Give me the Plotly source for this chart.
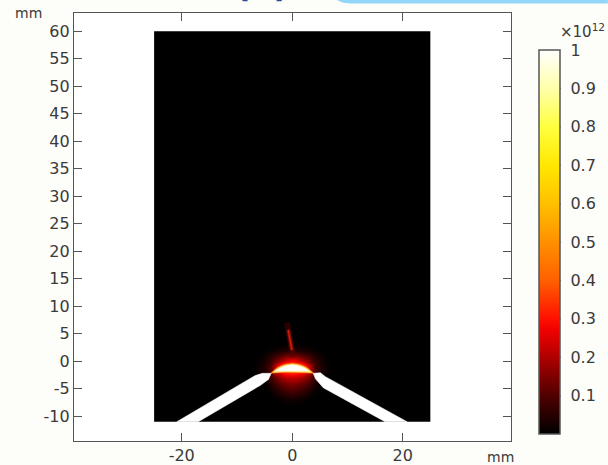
import plotly.graph_objects as go

# Field table, in units of 1e12
grid_x = [-8, -7, -6, -5, -4, -3, -2, -1, 0, 1, 2, 3, 4, 5, 6, 7, 8]
grid_y = [4, 3, 2, 1, 0, -1, -2, -3, -4, -5, -6, -7, -8]
field = [
    [0, 0, 0, 0, 0, 0, 0, 0, 0, 0, 0, 0, 0, 0, 0, 0, 0],
    [0, 0, 0, 0, 0, 0, 0, .01, .01, .01, 0, 0, 0, 0, 0, 0, 0],
    [0, 0, 0, 0, .01, .02, .03, .04, .05, .04, .03, .02, .01, 0, 0, 0, 0],
    [0, 0, .005, .02, .04, .07, .1, .13, .14, .13, .1, .07, .04, .02, .005, 0, 0],
    [0, 0, .01, .03, .07, .13, .2, .26, .3, .26, .2, .13, .07, .03, .01, 0, 0],
    [0, 0, .02, .04, .1, .22, .4, .5, .55, .5, .4, .22, .1, .04, .02, 0, 0],
    [0, 0, .02, .04, .1, .2, .28, .32, .34, .32, .28, .2, .1, .04, .02, 0, 0],
    [0, 0, 0, .03, .07, .13, .18, .21, .22, .21, .18, .13, .07, .03, 0, 0, 0],
    [0, 0, 0, 0, .04, .08, .12, .14, .15, .14, .12, .08, .04, 0, 0, 0, 0],
    [0, 0, 0, 0, .02, .05, .08, .1, .11, .1, .08, .05, .02, 0, 0, 0, 0],
    [0, 0, 0, 0, 0, .02, .04, .05, .06, .05, .04, .02, 0, 0, 0, 0, 0],
    [0, 0, 0, 0, 0, 0, .01, .02, .02, .02, .01, 0, 0, 0, 0, 0, 0],
    [0, 0, 0, 0, 0, 0, 0, 0, 0, 0, 0, 0, 0, 0, 0, 0, 0],
]

# Geometry outlines, mm
domain_x = [-25, 25]
domain_y = [-11, 60]
left_x = [-20.9, -17.0, -5.8, -4.3, -3.8, -5.4, -6.7, -20.9]
left_y = [-11, -11, -4.4, -3.3, -2.2, -2.2, -2.6, -11]
right_x = [20.8, 16.8, 5.6, 4.2, 3.8, 5.1, 6.0, 20.8]
right_y = [-11, -11, -4.8, -3.2, -2.2, -2.1, -2.8, -11]
lens_x = [-3.9, -2.8, -1.4, 0, 1.4, 2.8, 3.9, 2.6, 1.3, 0, -1.3, -2.6, -3.9]
lens_y = [-2.2, -1.2, -0.6, -0.4, -0.6, -1.2, -2.2, -2.1, -2.0, -2.0, -2.0, -2.1, -2.2]
mid_x = [-3.5, -2.2, -1.0, 0, 1.0, 2.2, 3.5, 2.2, 1.0, 0, -1.0, -2.2, -3.5]
mid_y = [-2.0, -1.05, -0.65, -0.5, -0.65, -1.05, -2.0, -1.95, -1.9, -1.9, -1.9, -1.95, -2.0]
core_x = [-3.0, -1.4, 0, 1.4, 3.0, 1.4, 0, -1.4, -3.0]
core_y = [-1.7, -0.95, -0.7, -0.95, -1.7, -1.75, -1.75, -1.75, -1.7]
streak_x = [-0.72, -0.05]
streak_y = [5.7, 2.0]
streak_halo_x = [-0.95, 0.2]
streak_halo_y = [7.0, 0.6]

# Axis and colour bar labels
x_ticks = [-20, 0, 20]
y_ticks = [60, 55, 50, 45, 40, 35, 30, 25, 20, 15, 10, 5, 0, -5, -10]
bar_ticks = [0.1, 0.2, 0.3, 0.4, 0.5, 0.6, 0.7, 0.8, 0.9, 1]
bar_labels = ["0.1", "0.2", "0.3", "0.4", "0.5", "0.6", "0.7", "0.8", "0.9", "1"]

thermal = [
    [0.0, "#000000"], [0.1, "#500000"], [0.2, "#b00000"], [0.27, "#f00000"],
    [0.3, "#ff1000"], [0.4, "#ff6000"], [0.5, "#ff9000"], [0.6, "#ffc000"],
    [0.7, "#ffe800"], [0.8, "#ffff40"], [0.9, "#ffffaa"], [1.0, "#ffffff"],
]

INK = "#3a3a3a"
FRAME = "#555555"
L, R, T, B = 73.6, 511.0, 13.0, 441.0
BAR_TOP, BAR_BOTTOM, BAR_LEFT, BAR_RIGHT = 50.0, 434.0, 539.3, 560.7


def px(v):
    return (v - L) / (R - L)


def py(v):
    return (B - v) / (B - T)


def poly(xs, ys, color):
    return go.Scatter(x=xs, y=ys, mode="lines", fill="toself", fillcolor=color,
                      line=dict(color=color, width=0.5), hoverinfo="skip", showlegend=False)


fig = go.Figure()
fig.add_trace(go.Heatmap(
    x=grid_x, y=grid_y, z=field, zmin=0, zmax=1, colorscale=thermal, zsmooth="best",
    colorbar=dict(
        thickness=BAR_RIGHT - BAR_LEFT, thicknessmode="pixels",
        len=BAR_BOTTOM - BAR_TOP, lenmode="pixels",
        x=px(BAR_LEFT), xanchor="left", xpad=0,
        y=py(BAR_BOTTOM), yanchor="bottom", ypad=0,
        tickmode="array", tickvals=bar_ticks, ticktext=bar_labels,
        ticks="outside", ticklen=7, tickwidth=1, tickcolor="rgba(0,0,0,0)",
        tickfont=dict(family="DejaVu Sans", size=16, color=INK),
        outlinecolor=FRAME, outlinewidth=1.5,
    ),
))
fig.add_trace(poly(lens_x, lens_y, "#ff8a10"))
fig.add_trace(poly(mid_x, mid_y, "#ffe98a"))
fig.add_trace(poly(core_x, core_y, "#ffffff"))
fig.add_trace(go.Scatter(x=streak_halo_x, y=streak_halo_y, mode="lines",
                         line=dict(color="rgba(90,0,0,0.45)", width=6),
                         hoverinfo="skip", showlegend=False))
fig.add_trace(go.Scatter(x=streak_x, y=streak_y, mode="lines",
                         line=dict(color="rgba(150,10,0,0.8)", width=3.5),
                         hoverinfo="skip", showlegend=False))
fig.add_trace(go.Scatter(x=streak_x, y=streak_y, mode="lines",
                         line=dict(color="#d02000", width=1.4),
                         hoverinfo="skip", showlegend=False))
fig.add_trace(poly(left_x, left_y, "#ffffff"))
fig.add_trace(poly(right_x, right_y, "#ffffff"))

axis_common = dict(
    showgrid=False, zeroline=False, showline=True, linecolor=FRAME, linewidth=1.3,
    mirror="ticks", ticks="inside", ticklen=8, tickwidth=1.3, tickcolor=FRAME,
    tickfont=dict(family="DejaVu Sans", size=16, color=INK),
)
fig.update_xaxes(range=[-39.5, 39.6], tickmode="array", tickvals=x_ticks,
                 ticktext=[str(t) for t in x_ticks], **axis_common)
fig.update_yaxes(range=[-14.5, 63.3], tickmode="array", tickvals=y_ticks,
                 ticktext=[str(t) for t in y_ticks], **axis_common)

shapes = [dict(type="rect", xref="x", yref="y", layer="below",
               x0=domain_x[0], x1=domain_x[1], y0=domain_y[0], y1=domain_y[1],
               fillcolor="#000000", line=dict(width=0))]
# Inward ticks on both edges of the colour bar
for t in bar_ticks[:-1]:
    yy = py(BAR_BOTTOM - t * (BAR_BOTTOM - BAR_TOP))
    for a, b in ((BAR_LEFT, BAR_LEFT + 4), (BAR_RIGHT - 4, BAR_RIGHT)):
        shapes.append(dict(type="line", xref="paper", yref="paper",
                           x0=px(a), x1=px(b), y0=yy, y1=yy,
                           line=dict(color="#333333", width=1)))
# Light-blue band cut off by the top edge
shapes.append(dict(type="path", xref="paper", yref="paper", layer="below",
                   path=f"M {px(337)} {py(0)} Q {px(342)} {py(3.5)} {px(352)} {py(3.5)} "
                        f"L {px(608)} {py(3.5)} L {px(608)} {py(0)} Z",
                   fillcolor="#94d6f8", line=dict(width=0)))


def note(text, x, y, size=14, color=INK, anchor="center", yanchor="middle", bold=False):
    return dict(text=f"<b>{text}</b>" if bold else text, xref="paper", yref="paper",
                x=px(x), y=py(y), xanchor=anchor, yanchor=yanchor, showarrow=False,
                font=dict(family="DejaVu Sans", size=size, color=color))


fig.update_layout(
    width=608, height=465, autosize=False,
    margin=dict(l=L, r=608 - R, t=T, b=465 - B, pad=0, autoexpand=False),
    paper_bgcolor="#fdfdfa", plot_bgcolor="#ffffff",
    showlegend=False,
    shapes=shapes,
    annotations=[
        note("mm", 28, 13),
        note("mm", 500, 457),
        note("×10<sup>12</sup>", 583, 31, size=15),
        note("(a)", 262, 6.5, size=34, color="#1d4f9f", yanchor="bottom", bold=True),
    ],
)
fig.write_html("out.html", config=dict(displayModeBar=False),
               post_script="document.body.style.margin='0';")
